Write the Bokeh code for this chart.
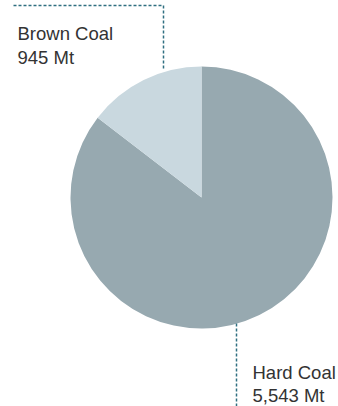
import numpy as np
from bokeh.plotting import figure
from bokeh.models import Range1d, ColumnDataSource
from bokeh.core.properties import value
from bokeh.embed import file_html
from bokeh.resources import INLINE

categories = ["Hard Coal", "Brown Coal"]
values_mt = [5543, 945]
labels = ["5,543 Mt", "945 Mt"]
colors = ["#97a9b0", "#c9d8df"]

W, H = 338, 406
p = figure(width=W, height=H, output_backend="svg", toolbar_location=None,
           x_range=Range1d(0, W), y_range=Range1d(0, H),
           min_border=0, min_border_left=0, min_border_right=0,
           min_border_top=0, min_border_bottom=0)
p.axis.visible = False
p.grid.visible = False
p.outline_line_color = None
p.background_fill_color = "white"
p.border_fill_color = "white"

cx, cy, r = 201, H - 197, 131
total = sum(values_mt)
fr = np.array(values_mt) / total
# Brown coal goes counterclockwise from 12 o'clock; hard coal fills the rest
brown_start = np.pi / 2
brown_end = brown_start + 2 * np.pi * fr[1]
starts = [brown_end, brown_start]
ends = [brown_start + 2 * np.pi, brown_end]
src = ColumnDataSource(dict(start=starts, end=ends, color=colors, cat=categories))
p.wedge(x=cx, y=cy, radius=r, start_angle="start", end_angle="end",
        fill_color="color", line_color=None, source=src)

lc = "#2f6f80"
# Brown coal leader
p.line(x=[13, 163, 163], y=[H - 5, H - 5, H - 70], line_color=lc,
       line_width=1.5, line_dash="3 2")
# Hard coal leader
p.line(x=[236, 236], y=[H - 323, 0], line_color=lc, line_width=1.5, line_dash="3 2")

tc = "#333333"
font = value("Liberation Sans")
p.text(x=[17, 17], y=[H - 33, H - 57], text=[categories[1], labels[1]],
       text_font=font, text_font_size="18.5px", text_color=tc,
       text_baseline="alphabetic", text_align="left")
p.text(x=[252, 252], y=[H - 372, H - 395], text=[categories[0], labels[0]],
       text_font=font, text_font_size="18.5px", text_color=tc,
       text_baseline="alphabetic", text_align="left")

open("out.html", "w").write(file_html(p, INLINE))
